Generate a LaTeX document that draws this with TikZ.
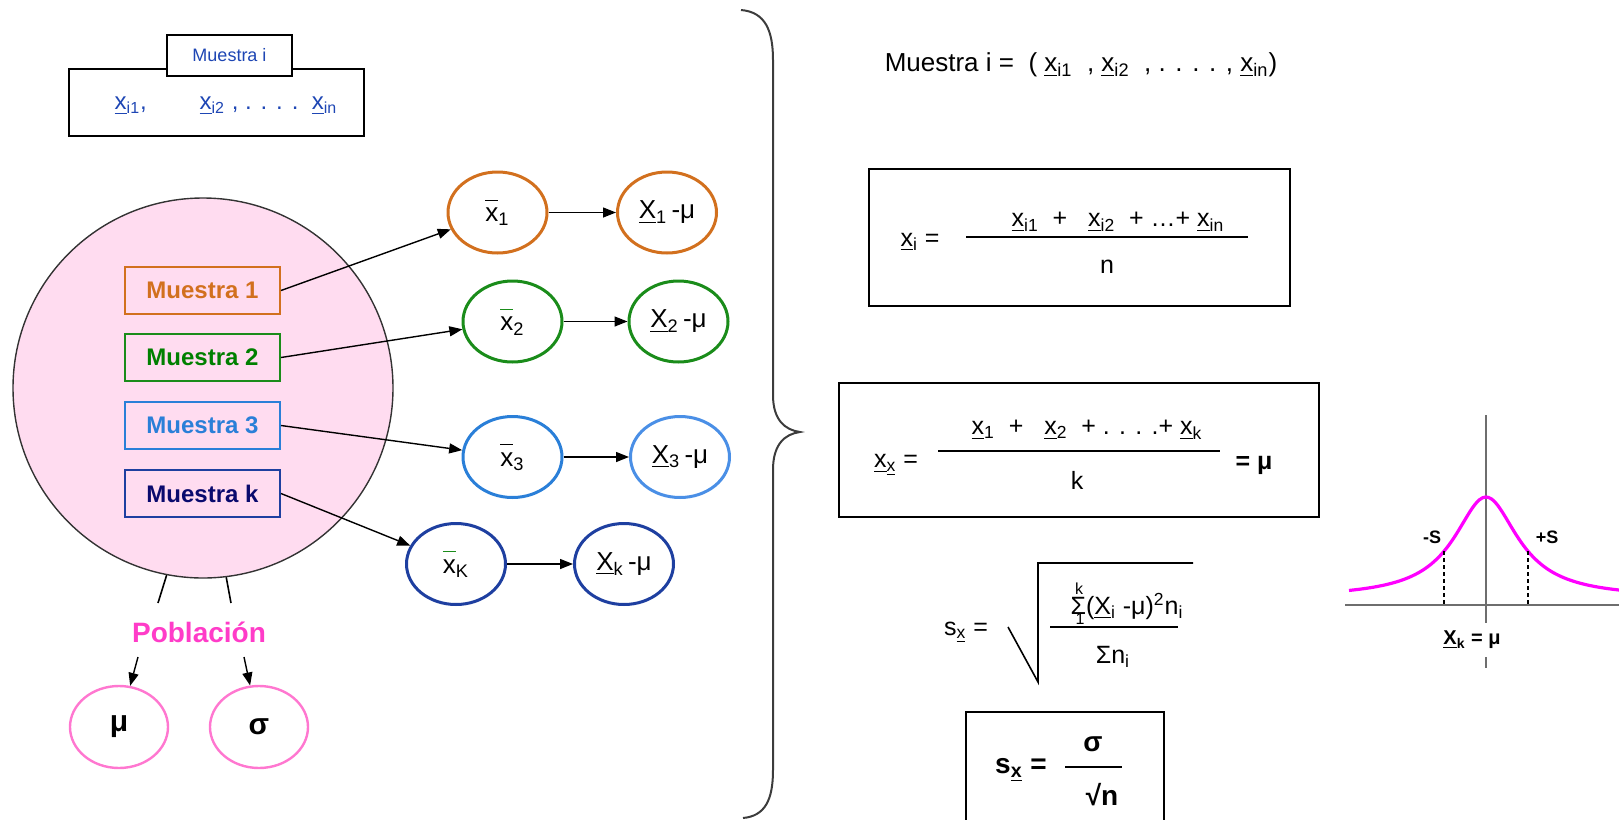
\documentclass[tikz,border=0pt]{standalone}
\usepackage{amsmath}
\usepackage{fontspec}
\setmainfont{Liberation Sans}
\usepackage{xcolor}
\usetikzlibrary{shapes.geometric, arrows.meta, positioning}
\definecolor{Naranja}{HTML}{D2701E}
\definecolor{Verde}{HTML}{1A8C1A}
\definecolor{VerdeTexto}{HTML}{008000}
\definecolor{Azul}{HTML}{2A7FD8}
\definecolor{AzulClaro}{HTML}{4A8FE6}
\definecolor{AzulOscuro}{HTML}{1E3FA0}
\definecolor{Marino}{HTML}{0A0A6E}
\definecolor{AzulTexto}{HTML}{1E46B4}
\definecolor{RosaFondo}{HTML}{FFDCF0}
\definecolor{Rosa}{HTML}{FF3CC8}
\definecolor{RosaBorde}{HTML}{FF77D0}
\definecolor{Magenta}{HTML}{FF00FF}
\definecolor{GrisEje}{HTML}{6E6E6E}
\definecolor{GrisLlave}{HTML}{3C3C3C}
\newcommand{\ux}{\underline{x}}
\newcommand{\uX}{\underline{X}}
\newcommand{\mediax}[2][black]{\(\textcolor{#1}{\overline{\vphantom{\text{X}}\textcolor{black}{\text{x}}}}\)\textsubscript{#2}}
\newcommand{\sumak}{\makebox[0pt][l]{\hspace{0.18em}\raisebox{0.78em}{\fontsize{8}{8}\selectfont k}}%
  \makebox[0pt][l]{\hspace{0.2em}\raisebox{-0.42em}{\fontsize{8}{8}\selectfont 1}}Σ}

\begin{document}
\begin{tikzpicture}[x=0.5pt, y=-0.5pt,
        muestra/.style={draw, line width=1pt, minimum width=77.5pt, minimum height=23.5pt,
                    inner sep=0pt, font=\fontsize{12}{14}\selectfont\bfseries},
        media/.style={ellipse, draw, line width=1.5pt, minimum width=49.5pt, minimum height=40.5pt,
                    inner sep=0pt, font=\fontsize{13}{15}\selectfont},
        param/.style={ellipse, draw=RosaBorde, line width=1.2pt, minimum width=49pt, minimum height=41pt,
                    inner sep=0pt, font=\fontsize{15}{17}\selectfont\bfseries},
        marco/.style={draw, line width=0.9pt, inner sep=0pt},
        formula/.style={inner sep=0pt, font=\fontsize{12.5}{15}\selectfont},
        negrita/.style={inner sep=0pt, font=\fontsize{14}{16}\selectfont\bfseries},
        flecha/.style={-{Triangle[length=6.5pt, width=5pt]}, line width=0.7pt}]
        \useasboundingbox (0,0) rectangle (1619,820);
        \node[marco, minimum width=147.5pt, minimum height=33.5pt] (caja) at (216.5,102.5) {};
        \node[marco, fill=white, minimum width=62.5pt, minimum height=20.5pt, text=AzulTexto,
              font=\fontsize{9}{11}\selectfont] (tab) at (229.5,55.5) {Muestra i};
        \node[formula, text=AzulTexto, font=\fontsize{12}{14}\selectfont] (datos) at (226,106)
              {\ux\textsubscript{i1},\hspace{2.2em}\ux\textsubscript{i2} , . . . .\ \ \ux\textsubscript{in}};
        \node[circle, draw=black!80, line width=0.7pt, fill=RosaFondo, minimum size=190pt, inner sep=0pt] (pob) at (203,388) {};
        \node[muestra, draw=Naranja, text=Naranja] (m1) at (202.5,290.5) {Muestra 1};
        \node[muestra, draw=Verde, text=VerdeTexto] (m2) at (202.5,357.5) {Muestra 2};
        \node[muestra, draw=Azul, text=Azul] (m3) at (202.5,425.5) {Muestra 3};
        \node[muestra, draw=AzulOscuro, text=Marino] (mk) at (202.5,493.5) {Muestra k};
        \node[media, draw=Naranja] (xb1) at (497.5,212.5) {\mediax{1}};
        \node[media, draw=Naranja] (xm1) at (667,212.5) {\uX\textsubscript{1}\,-μ};
        \node[media, draw=Verde] (xb2) at (512.5,321.5) {\mediax[Verde]{2}};
        \node[media, draw=Verde] (xm2) at (678.5,321.5) {\uX\textsubscript{2}\,-μ};
        \node[media, draw=Azul] (xb3) at (512.5,457) {\mediax{3}};
        \node[media, draw=AzulClaro] (xm3) at (680,457) {\uX\textsubscript{3}\,-μ};
        \node[media, draw=AzulOscuro] (xbk) at (456,564) {\mediax[Verde]{K}};
        \node[media, draw=AzulOscuro] (xmk) at (624,564) {\uX\textsubscript{k}\,-μ};
        \draw[flecha] (m1.east) -- (xb1);
        \draw[flecha] (m2.east) -- (xb2);
        \draw[flecha] (m3.east) -- (xb3);
        \draw[flecha] (mk.east) -- (xbk);
        \draw[flecha] (xb1) -- (xm1);
        \draw[flecha] (xb2) -- (xm2);
        \draw[flecha] (xb3) -- (xm3);
        \draw[flecha] (xbk) -- (xmk);
        \node[text=Rosa, inner sep=0pt, font=\fontsize{14}{16}\selectfont\bfseries] (pobl) at (199,632) {Población};
        \coordinate (pl) at (158,603);
        \coordinate (pr) at (231,603);
        \draw[line width=0.8pt] (pob.-101) -- (pl);
        \draw[line width=0.8pt] (pob.-83) -- (pr);
        \node[param] (mu) at (119,727) {μ};
        \node[param] (sigma) at (259,727) {σ};
        \coordinate (al) at (138,657);
        \coordinate (ar) at (244,657);
        \draw[flecha] (al) -- (mu);
        \draw[flecha] (ar) -- (sigma);
        \draw[GrisLlave, line width=1pt] (741,10) .. controls (765,12) and (773,30) .. (773,60) -- (773,395)
              .. controls (773,420) and (785,430) .. (800,432) .. controls (785,434) and (773,444) .. (773,470)
              -- (773,770) .. controls (773,800) and (765,816) .. (743,818);
        \node[formula, font=\fontsize{13}{15}\selectfont] (defm) at (1081,65)
              {Muestra i =\ \ ( \ux\textsubscript{i1}\ \ , \ux\textsubscript{i2}\ \ , . . . . , \ux\textsubscript{in})};
        \node[marco, minimum width=210.5pt, minimum height=68.5pt] (f1) at (1079.5,237.5) {};
        \node[formula] (f1l) at (920,242) {\ux\textsubscript{i} =};
        \node[formula] (f1n) at (1118,222) {\ux\textsubscript{i1}\ \ +\ \ \ \ux\textsubscript{i2}\ \ + \dots+ \ux\textsubscript{in}};
        \node[formula] (f1d) at (1107,267) {n};
        \draw[line width=0.8pt] (966,237) -- (1248,237);
        \node[marco, minimum width=240pt, minimum height=67pt] (f2) at (1079,450) {};
        \node[formula] (f2l) at (896,465) {\ux\textsubscript{\ux} =};
        \node[formula] (f2n) at (1087,430) {\ux\textsubscript{1}\ \ +\ \ \ \ux\textsubscript{2}\ \ + . . . .+ \ux\textsubscript{k}};
        \node[formula] (f2d) at (1077,480) {k};
        \node[formula, font=\fontsize{12.5}{15}\selectfont\bfseries] (f2r) at (1254,465) {= μ};
        \draw[line width=0.8pt] (938,451) -- (1220,451);
        \node[formula] (s1l) at (966,632) {s\textsubscript{\ux} =};
        \draw[line width=0.8pt] (1008,627) -- (1038,682) -- (1038,563) -- (1193,563);
        \node[formula, anchor=base] (s1n) at (1127,614)
              {\sumak(\uX\textsubscript{i} -μ)\textsuperscript{2}n\textsubscript{i}};
        \draw[line width=0.8pt] (1050,627) -- (1178,627);
        \node[formula] (s1d) at (1113,657) {Σn\textsubscript{i}};
        \node[marco, minimum width=99pt, minimum height=59pt] (f3) at (1065,771) {};
        \node[negrita] (f3l) at (1021,770) {s\textsubscript{\ux} =};
        \node[negrita] (f3n) at (1093,744) {σ};
        \node[negrita] (f3d) at (1102,795) {√n};
        \draw[line width=0.9pt] (1065,767) -- (1122,767);
        \draw[GrisEje, line width=0.8pt] (1486,415) -- (1486,668);
        \draw[GrisEje, line width=0.8pt] (1345,605) -- (1619,605);
        \draw[Magenta, line width=1.6pt] plot[domain=-137:133, samples=90, smooth] ({1486+\x},{598-101/(1+(\x/39)^2)});
        \draw[dashed, dash pattern=on 2pt off 1.5pt, line width=0.7pt] (1444,551) -- (1444,605);
        \draw[dashed, dash pattern=on 2pt off 1.5pt, line width=0.7pt] (1528,551) -- (1528,605);
        \node[inner sep=0pt, font=\fontsize{9}{11}\selectfont\bfseries] (ms) at (1432,537) {-S};
        \node[inner sep=0pt, font=\fontsize{9}{11}\selectfont\bfseries] (ps) at (1547,537) {+S};
        \node[fill=white, inner xsep=1pt, inner ysep=4pt, font=\fontsize{10}{12}\selectfont\bfseries] (xk) at (1472,640) {\uX\textsubscript{k} = μ};
      \end{tikzpicture}
\end{document}
